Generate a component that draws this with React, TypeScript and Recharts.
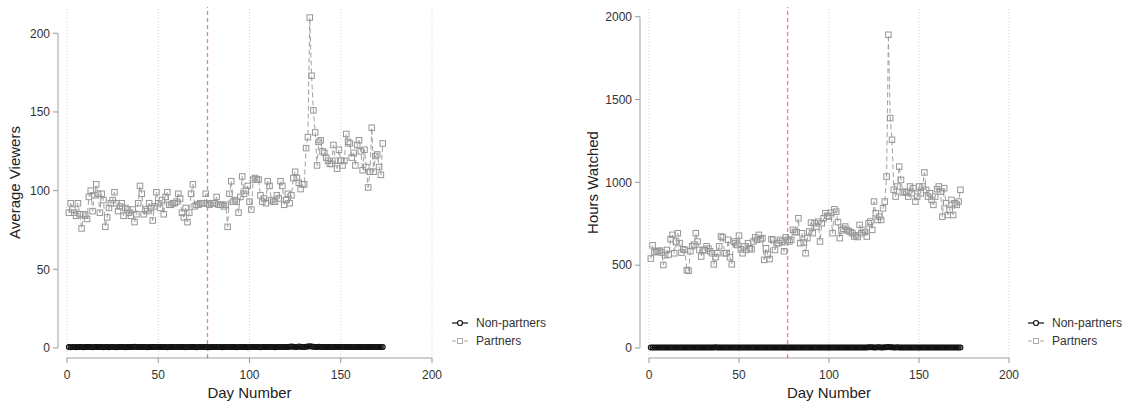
import React from 'react';
import { LineChart, Line, XAxis, YAxis, ReferenceLine, Legend } from 'recharts';

const FONT = "'Liberation Sans', Arial, Helvetica, sans-serif";

const days: number[] = Array.from({ length: 173 }, (_, i) => i + 1);
const xTicks = [0, 50, 100, 150, 200];
const viewerTicks = [0, 50, 100, 150, 200];
const hoursTicks = [0, 500, 1000, 1500, 2000];
const treatmentDay = 77;

const partnerViewers = [
  86, 92, 88, 86, 84, 92, 85, 76, 85, 84,
  82, 96, 100, 87, 97, 104, 98, 86, 98, 94,
  77, 83, 89, 92, 94, 99, 92, 87, 90, 92,
  84, 89, 88, 86, 84, 88, 80, 85, 92, 103,
  98, 85, 88, 87, 92, 89, 81, 90, 99, 92,
  89, 94, 85, 96, 99, 91, 91, 92, 92, 93,
  98, 95, 86, 83, 89, 80, 86, 98, 104, 90,
  91, 91, 92, 92, 92, 98, 92, 91, 92, 92,
  92, 96, 91, 91, 91, 90, 91, 77, 98, 106,
  93, 94, 93, 86, 96, 109, 98, 100, 103, 93,
  88, 107, 108, 107, 107, 97, 93, 95, 92, 106,
  103, 94, 93, 93, 97, 95, 106, 103, 91, 94,
  98, 92, 97, 108, 112, 108, 105, 101, 104, 104,
  127, 134, 210, 173, 151, 137, 116, 131, 132, 125,
  124, 121, 119, 117, 117, 129, 119, 114, 126, 119,
  116, 119, 136, 131, 130, 121, 124, 116, 129, 132,
  125, 113, 126, 115, 102, 112, 140, 112, 122, 123,
  115, 110, 130,
];

const nonPartnerViewers = [
  0.6, 0.5, 0.7, 0.6, 0.5, 0.6, 0.7, 0.6, 0.5, 0.6,
  0.6, 0.7, 0.6, 0.5, 0.6, 0.6, 0.7, 0.6, 0.6, 0.5,
  0.6, 0.6, 0.5, 0.7, 0.6, 0.6, 0.5, 0.6, 0.7, 0.6,
  0.6, 0.5, 0.6, 0.6, 0.7, 0.6, 0.8, 0.7, 0.6, 0.6,
  0.7, 0.6, 0.6, 0.5, 0.6, 0.7, 0.6, 0.6, 0.6, 0.7,
  0.6, 0.6, 0.7, 0.6, 0.5, 0.6, 0.6, 0.7, 0.6, 0.6,
  0.6, 0.7, 0.6, 0.6, 0.5, 0.6, 0.7, 0.6, 0.6, 0.6,
  0.5, 0.6, 0.6, 0.7, 0.6, 0.6, 0.6, 0.5, 0.6, 0.6,
  0.7, 0.6, 0.6, 0.6, 0.5, 0.6, 0.6, 0.7, 0.6, 0.6,
  0.6, 0.6, 0.5, 0.6, 0.7, 0.6, 0.6, 0.6, 0.5, 0.6,
  0.6, 0.7, 0.6, 0.6, 0.6, 0.5, 0.6, 0.6, 0.7, 0.6,
  0.6, 0.6, 0.6, 0.5, 0.6, 0.7, 0.6, 0.6, 0.6, 0.6,
  0.7, 0.8, 0.9, 0.8, 0.7, 0.7, 1.0, 0.8, 0.7, 0.7,
  0.8, 0.9, 1.1, 0.9, 0.8, 0.7, 0.7, 0.8, 0.7, 0.7,
  0.6, 0.7, 0.7, 0.6, 0.7, 0.7, 0.6, 0.7, 0.7, 0.6,
  0.7, 0.6, 0.7, 0.7, 0.6, 0.7, 0.6, 0.7, 0.7, 0.6,
  0.6, 0.7, 0.6, 0.7, 0.6, 0.6, 0.7, 0.6, 0.7, 0.6,
  0.6, 0.7, 0.6,
];

const partnerHours = [
  540, 620, 578, 582, 585, 588, 576, 501, 560, 592,
  564, 657, 683, 572, 643, 693, 633, 576, 596, 592,
  470, 466, 584, 614, 624, 693, 643, 592, 552, 592,
  590, 614, 600, 584, 572, 505, 548, 572, 614, 673,
  668, 572, 572, 653, 548, 505, 643, 633, 622, 678,
  596, 572, 614, 592, 633, 602, 596, 643, 668, 653,
  683, 657, 663, 532, 602, 564, 537, 657, 653, 592,
  633, 633, 653, 643, 584, 668, 653, 643, 653, 713,
  700, 700, 783, 633, 693, 637, 572, 663, 703, 757,
  693, 753, 733, 763, 643, 753, 783, 814, 798, 794,
  817, 693, 837, 823, 760, 663, 710, 720, 733, 713,
  705, 700, 693, 673, 680, 670, 743, 693, 713, 700,
  673, 753, 763, 713, 884, 814, 773, 793, 773, 843,
  884, 1035, 1891, 1388, 1257, 955, 914, 975, 1095, 1015,
  939, 944, 939, 914, 975, 934, 965, 884, 914, 975,
  934, 975, 1060, 955, 914, 934, 894, 864, 914, 959,
  975, 944, 793, 965, 874, 803, 833, 894, 803, 874,
  864, 884, 955,
];

const nonPartnerHours = [
  3.1, 2.9, 3.3, 3.0, 2.8, 3.1, 3.4, 3.0, 2.9, 3.1,
  3.2, 3.4, 3.0, 2.8, 3.1, 3.1, 3.5, 3.1, 3.0, 2.8,
  3.0, 3.1, 2.9, 3.4, 3.1, 3.2, 2.8, 3.0, 3.5, 3.2,
  3.1, 2.8, 3.1, 3.2, 3.5, 3.1, 3.9, 3.6, 3.1, 3.0,
  3.6, 3.1, 3.2, 2.9, 3.1, 3.5, 3.2, 3.1, 3.0, 3.6,
  3.2, 3.1, 3.5, 3.0, 2.8, 3.1, 3.2, 3.6, 3.1, 3.1,
  3.2, 3.5, 3.1, 3.0, 2.8, 3.2, 3.6, 3.1, 3.2, 3.1,
  2.9, 3.1, 3.2, 3.6, 3.1, 3.2, 3.1, 2.8, 3.1, 3.2,
  3.5, 3.1, 3.2, 3.0, 2.9, 3.1, 3.2, 3.6, 3.2, 3.1,
  3.1, 3.2, 2.9, 3.1, 3.5, 3.2, 3.1, 3.1, 2.8, 3.1,
  3.2, 3.6, 3.1, 3.2, 3.1, 2.9, 3.2, 3.1, 3.5, 3.2,
  3.1, 3.2, 3.1, 2.9, 3.2, 3.6, 3.1, 3.2, 3.1, 3.2,
  3.6, 4.1, 4.6, 4.0, 3.6, 3.7, 5.0, 4.1, 3.6, 3.7,
  4.2, 4.7, 5.6, 4.6, 4.1, 3.6, 3.7, 4.1, 3.6, 3.5,
  3.2, 3.6, 3.5, 3.2, 3.6, 3.5, 3.1, 3.6, 3.5, 3.2,
  3.6, 3.2, 3.5, 3.6, 3.1, 3.5, 3.2, 3.6, 3.5, 3.1,
  3.2, 3.5, 3.1, 3.6, 3.2, 3.1, 3.5, 3.2, 3.6, 3.1,
  3.2, 3.5, 3.1,
];

const SquareDot = (props: any) => {
  const { cx, cy, index } = props;
  if (cx == null || cy == null || isNaN(cx) || isNaN(cy)) return <g key={`sq-${index}`} />;
  return (
    <rect
      key={`sq-${index}`}
      x={cx - 2.75}
      y={cy - 2.75}
      width={5.5}
      height={5.5}
      fill="none"
      stroke="#969696"
      strokeWidth={1}
    />
  );
};

const renderLegend = (props: any) => {
  const payload = props.payload || [];
  return (
    <div style={{ fontFamily: FONT, fontSize: 12, color: '#333' }}>
      {payload.map((entry: any, i: number) => {
        const isPartner = entry.dataKey === 'partners';
        return (
          <div
            key={i}
            style={{ display: 'flex', alignItems: 'center', height: 17.5, whiteSpace: 'nowrap' }}
          >
            <svg width={16} height={10} style={{ marginRight: 8, display: 'block' }}>
              {isPartner ? (
                <g>
                  <line x1={0} y1={5} x2={4} y2={5} stroke="#aaa" />
                  <rect x={5.5} y={2.5} width={5} height={5} fill="none" stroke="#aaa" />
                  <line x1={12} y1={5} x2={16} y2={5} stroke="#aaa" />
                </g>
              ) : (
                <g>
                  <line x1={0} y1={5} x2={16} y2={5} stroke="#111" strokeWidth={1.2} />
                  <circle cx={8} cy={5} r={2.5} fill="#fff" stroke="#111" strokeWidth={1.2} />
                </g>
              )}
            </svg>
            <span>{entry.value}</span>
          </div>
        );
      })}
    </div>
  );
};

type PanelProps = {
  left: number;
  width: number;
  yAxisWidth: number;
  marginRight: number;
  xDomain: [number, number];
  yDomain: [number, number];
  yTicks: number[];
  partners: number[];
  nonPartners: number[];
  yLabel: string;
  yLabelBaseline: number;
  legendLeft: number;
};

function Panel(p: PanelProps) {
  const data = days.map((d, i) => ({ day: d, nonPartners: p.nonPartners[i], partners: p.partners[i] }));
  const plotLeft = p.yAxisWidth;
  const plotRight = p.width - p.marginRight;
  const centerX = (plotLeft + plotRight) / 2;
  const yLabelY = 182.5;
  return (
    <div style={{ position: 'absolute', left: p.left, top: 0 }}>
      <LineChart
        width={p.width}
        height={402}
        data={data}
        margin={{ top: 7, right: p.marginRight, bottom: 0, left: 0 }}
      >
        {xTicks.map((t) => (
          <ReferenceLine
            key={`grid-${t}`}
            x={t}
            stroke="#d0d0d0"
            strokeDasharray="1 2"
            ifOverflow="visible"
          />
        ))}
        <XAxis
          dataKey="day"
          type="number"
          domain={p.xDomain}
          allowDataOverflow
          ticks={xTicks}
          interval={0}
          height={44}
          axisLine={false}
          tickLine={{ stroke: '#999' }}
          tickSize={5}
          tickMargin={7}
          tick={{ fill: '#333', fontSize: 12, fontFamily: FONT }}
          label={{
            content: () => (
              <text x={centerX} y={398} textAnchor="middle" fontSize={15} fill="#222" fontFamily={FONT}>
                Day Number
              </text>
            ),
          }}
        />
        <YAxis
          type="number"
          domain={p.yDomain}
          allowDataOverflow
          ticks={p.yTicks}
          interval={0}
          width={p.yAxisWidth}
          axisLine={false}
          tickLine={{ stroke: '#999' }}
          tickSize={5}
          tickMargin={3}
          tick={{ fill: '#333', fontSize: 12, fontFamily: FONT }}
          label={{
            content: () => (
              <text
                x={p.yLabelBaseline}
                y={yLabelY}
                transform={`rotate(-90 ${p.yLabelBaseline} ${yLabelY})`}
                textAnchor="middle"
                fontSize={15}
                fill="#222"
                fontFamily={FONT}
              >
                {p.yLabel}
              </text>
            ),
          }}
        />
        <ReferenceLine
          segment={[{ x: xTicks[0], y: p.yDomain[0] }, { x: xTicks[xTicks.length - 1], y: p.yDomain[0] }]}
          stroke="#a0a0a0"
          ifOverflow="visible"
        />
        <ReferenceLine
          segment={[{ x: p.xDomain[0], y: p.yTicks[0] }, { x: p.xDomain[0], y: p.yTicks[p.yTicks.length - 1] }]}
          stroke="#a0a0a0"
          ifOverflow="visible"
        />
        <ReferenceLine
          x={treatmentDay}
          stroke="#ff2030"
          strokeWidth={1.3}
          strokeDasharray="4 3"
          strokeOpacity={0.6}
          ifOverflow="visible"
        />
        <Line
          dataKey="nonPartners"
          name="Non-partners"
          stroke="#111"
          strokeWidth={1.2}
          dot={{ r: 2.4, stroke: '#111', strokeWidth: 1.2, fill: 'none' }}
          isAnimationActive={false}
        />
        <Line
          dataKey="partners"
          name="Partners"
          stroke="#a0a0a0"
          strokeWidth={1}
          strokeDasharray="5 3"
          dot={SquareDot}
          isAnimationActive={false}
        />
        <Legend
          layout="vertical"
          align="center"
          verticalAlign="middle"
          wrapperStyle={{ left: p.legendLeft, top: 314.5, width: 110 }}
          content={renderLegend}
        />
      </LineChart>
    </div>
  );
}

export default function App() {
  return (
    <div
      style={{
        position: 'absolute',
        left: 0,
        top: 0,
        width: 1125,
        height: 402,
        background: '#fff',
        fontFamily: FONT,
      }}
    >
      <Panel
        left={0}
        width={562}
        yAxisWidth={58}
        marginRight={121}
        xDomain={[-4.93, 204.93]}
        yDomain={[-6.36, 216.7]}
        yTicks={viewerTicks}
        partners={partnerViewers}
        nonPartners={nonPartnerViewers}
        yLabel="Average Viewers"
        yLabelBaseline={19.5}
        legendLeft={452}
      />
      <Panel
        left={562}
        width={563}
        yAxisWidth={78}
        marginRight={107}
        xDomain={[-5, 205]}
        yDomain={[-60.4, 2058.6]}
        yTicks={hoursTicks}
        partners={partnerHours}
        nonPartners={nonPartnerHours}
        yLabel="Hours Watched"
        yLabelBaseline={35.5}
        legendLeft={466}
      />
    </div>
  );
}
